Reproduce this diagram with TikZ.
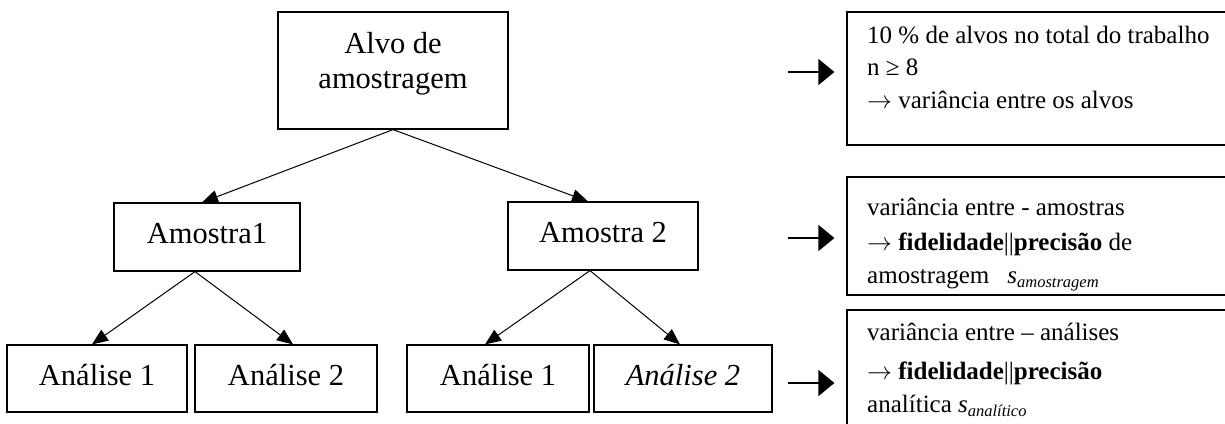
\documentclass[tikz,border=0pt]{standalone}
\usepackage{fontspec}
\setmainfont{Liberation Serif}
\usetikzlibrary{arrows.meta}
\newcommand{\subtxt}[1]{\raisebox{-4pt}{\fontsize{16.5}{18}\selectfont\itshape #1}}
\newcommand{\rarr}{$\rightarrow$}
\begin{document}
\begin{tikzpicture}[x=1pt,y=-1pt,
  box/.style={draw, line width=1.2pt, inner sep=0pt, text height=21pt, text depth=8pt,
    font=\fontsize{30.5}{35}\selectfont},
  tarrow/.style={-{Triangle[length=16pt,width=13pt]}, line width=1pt},
  barrow/.style={-{Triangle[length=16pt,width=26pt]}, line width=1.2pt, shorten >=12pt},
  rbox/.style={draw, line width=1.2pt, inner sep=0pt, minimum width=393pt},
  rtext/.style={anchor=base west, inner sep=0pt, font=\fontsize{25}{30}\selectfont}]
\useasboundingbox (0,0) rectangle (1225,423);
\fill[white] (0,0) rectangle (1225,423);
\clip (0,0) rectangle (1225,423);
% tree
\node[box, minimum width=230pt, minimum height=117pt] (alvo) at (393,70.5) {};
\node[inner sep=0pt, align=center, font=\fontsize{30.5}{35}\selectfont] (alvotxt) at (393,63.4) {Alvo de\\amostragem};
\node[box, minimum width=186pt, minimum height=68pt] (am1) at (207,237) {Amostra1};
\node[box, minimum width=190pt, minimum height=68pt] (am2) at (603,236) {Amostra 2};
\node[box, minimum width=180pt, minimum height=67pt] (an11) at (97,378.5) {Análise 1};
\node[box, minimum width=182pt, minimum height=67pt] (an12) at (286,378.5) {Análise 2};
\node[box, minimum width=182pt, minimum height=67pt] (an21) at (498,378.5) {Análise 1};
\node[box, minimum width=178pt, minimum height=67pt] (an22) at (683,378.5) {\itshape Análise 2};
\draw[tarrow] (alvo.south) -- ([xshift=-5pt]am1.north);
\draw[tarrow] (alvo.south) -- ([xshift=-15pt]am2.north);
\draw[tarrow] ([xshift=-12pt]am1.south) -- ([xshift=-5pt]an11.north);
\draw[tarrow] ([xshift=-12pt]am1.south) -- ([xshift=7pt]an12.north);
\draw[tarrow] ([xshift=-13pt]am2.south) -- ([xshift=-13pt]an21.north);
\draw[tarrow] ([xshift=-13pt]am2.south) -- ([xshift=-3pt]an22.north);
% right boxes
\node[rbox, minimum height=133pt] (b1) at (1043.5,78.5) {};
\node[rbox, minimum height=118pt] (b2) at (1043.5,236) {};
\node[rbox, minimum height=130pt] (b3) at (1043.5,375) {};
\coordinate (s1) at (788,72);
\coordinate (s2) at (788,238);
\coordinate (s3) at (788,383);
\draw[barrow] (s1) -- (s1 -| b1.west);
\draw[barrow] (s2) -- (s2 -| b2.west);
\draw[barrow] (s3) -- (s3 -| b3.west);
% texts
\node[rtext] (t11) at (867,43) {10 \% de alvos no total do trabalho};
\node[rtext] (t12) at (867,75) {n ≥ 8};
\node[rtext] (t13) at (867,108) {\rarr{} variância entre os alvos};
\node[rtext] (t21) at (867,215) {variância entre - amostras};
\node[rtext] (t22) at (867,250) {\rarr{} \textbf{fidelidade}||\textbf{precisão} de};
\node[rtext] (t23) at (867,283) {amostragem\hspace{18pt}\textit{s}\subtxt{amostragem}};
\node[rtext] (t31) at (867,340) {variância entre – análises};
\node[rtext] (t32) at (867,379) {\rarr{} \textbf{fidelidade}||\textbf{precisão}};
\node[rtext] (t33) at (867,412) {analítica \textit{s}\subtxt{analítico}};
\end{tikzpicture}
\end{document}
